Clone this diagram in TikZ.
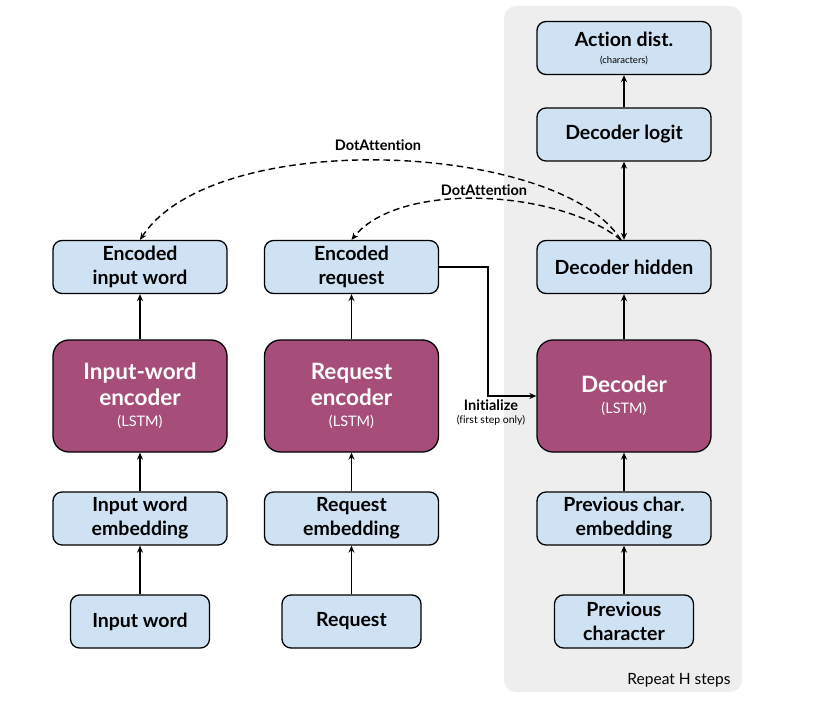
\documentclass[tikz,border=0pt]{standalone}
\usepackage{fontspec}
\setmainfont{Lato}[Ligatures=NoCommon]
\usetikzlibrary{arrows.meta}
\definecolor{boxblue}{HTML}{CFE2F3}
\definecolor{lstm}{HTML}{A64D79}
\definecolor{bggray}{HTML}{EEEEEE}
\begin{document}
\begin{tikzpicture}[x=1pt,y=-1pt,
  bbox/.style={draw=black,line width=1.3pt,fill=boxblue,rounded corners=9pt,minimum height=53pt,align=center,font=\fontsize{19.5}{24}\selectfont\bfseries,inner sep=0pt},
  wide/.style={bbox,minimum width=174pt},
  narrow/.style={bbox,minimum width=139pt},
  lstmbox/.style={draw=black,line width=1.3pt,fill=lstm,rounded corners=16pt,minimum width=174pt,minimum height=112pt,align=center,text=white,font=\fontsize{22.5}{26}\selectfont\bfseries,inner sep=0pt},
  arr/.style={line width=1.3pt,-{Stealth[length=7pt,width=6pt]}},
  darr/.style={line width=1.4pt,dashed,dash pattern=on 6.5pt off 4pt,-{Stealth[length=7pt,width=6pt]}},
  small/.style={font=\fontsize{10.5}{12}\selectfont\mdseries},
  lbl/.style={font=\fontsize{14.5}{17}\selectfont\bfseries}
]
\useasboundingbox (0,0) rectangle (830,711);
\fill[bggray,rounded corners=12pt] (504,6) rectangle (742,692);
\node[anchor=east,font=\fontsize{15.5}{18}\selectfont] (rep) at (734,680) {Repeat H steps};

% decoder column
\node[wide] (act) at (624,48) {Action dist.\\[-7pt]{\fontsize{9.5}{11}\selectfont\mdseries (characters)}};
\node[wide] (logit) at (624,134.5) {Decoder logit};
\node[wide] (hid) at (624,267) {Decoder hidden};
\node[lstmbox] (dec) at (624,396) {Decoder\\[-5pt]{\fontsize{14.5}{17}\selectfont\mdseries (LSTM)}};
\node[wide] (pemb) at (624,518.5) {Previous char.\\embedding};
\node[narrow] (prev) at (624,621.5) {Previous\\character};

% input word column
\node[wide] (einp) at (140,267) {Encoded\\input word};
\node[lstmbox] (ienc) at (140,396) {Input-word\\encoder\\[-5pt]{\fontsize{14.5}{17}\selectfont\mdseries (LSTM)}};
\node[wide] (iemb) at (140,518.5) {Input word\\embedding};
\node[narrow] (inp) at (140,621.5) {Input word};

% request column
\node[wide] (ereq) at (351.5,267) {Encoded\\request};
\node[lstmbox] (renc) at (351.5,396) {Request\\encoder\\[-5pt]{\fontsize{14.5}{17}\selectfont\mdseries (LSTM)}};
\node[wide] (remb) at (351.5,518.5) {Request\\embedding};
\node[narrow] (req) at (351.5,621.5) {Request};

% vertical arrows
\foreach \a/\b in {inp/iemb,iemb/ienc,ienc/einp,req/remb,remb/renc,renc/ereq,prev/pemb,pemb/dec,dec/hid,logit/act}
  \draw[arr] (\a) -- (\b);
\draw[arr,{Stealth[length=7pt,width=6pt]}-{Stealth[length=7pt,width=6pt]}] (hid) -- (logit);

% initialize
\coordinate (c1) at (488,267);
\coordinate (c2) at (488,396);
\draw[line width=1.3pt,-{Stealth[length=7pt,width=6pt]}] (ereq.east) -- (c1) -- (c2) -- (dec.west);
\node[lbl] (init) at (491,405) {Initialize};
\node[small] (fso) at (491,420) {(first step only)};

% attention
\coordinate (hs) at (621,240);
\draw[darr] (hs) .. controls (560,142) and (215,126) .. (einp.north);
\draw[darr] (hs) .. controls (560,190) and (400,180) .. (ereq.north);
\node[lbl] (da1) at (378,145) {DotAttention};
\node[lbl] (da2) at (484,190) {DotAttention};
\end{tikzpicture}
\end{document}
